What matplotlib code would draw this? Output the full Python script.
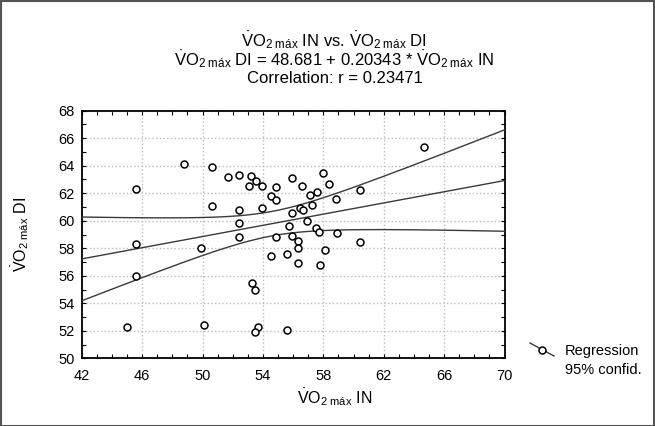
import numpy as np
import matplotlib
matplotlib.use("Agg")
import matplotlib.pyplot as plt
from matplotlib.lines import Line2D
from matplotlib.patches import Rectangle
from matplotlib.ticker import MultipleLocator

plt.rcParams['font.family'] = ['Liberation Sans', 'DejaVu Sans']
plt.rcParams['mathtext.fontset'] = 'custom'
plt.rcParams['mathtext.rm'] = 'Liberation Sans'
plt.rcParams['mathtext.it'] = 'Liberation Sans:italic'
plt.rcParams['mathtext.bf'] = 'Liberation Sans:bold'

# Data
vo2_in = [45.6, 45.6, 45.6, 48.8, 50.6, 50.6, 49.9, 45.0, 50.1, 53.3, 53.5, 53.7, 53.5, 55.6,
          51.7, 52.4, 53.2, 53.55, 53.05, 53.95, 55.95, 54.9, 56.6, 57.95, 58.4, 54.55, 54.9,
          57.1, 57.6, 58.85, 52.4, 53.95, 55.95, 56.45, 56.65, 57.25, 56.9, 60.4, 52.4, 55.7,
          57.5, 57.7, 58.9, 52.4, 54.85, 55.95, 56.3, 56.3, 58.1, 54.55, 55.6, 56.3, 57.8,
          60.4, 64.65]
vo2_di = [58.3, 62.3, 56.0, 64.1, 63.9, 61.1, 58.0, 52.3, 52.4, 55.5, 55.0, 52.25, 51.9, 52.05,
          63.15, 63.35, 63.25, 62.9, 62.5, 62.5, 63.1, 62.45, 62.5, 63.5, 62.7, 61.8, 61.5,
          61.9, 62.1, 61.6, 60.75, 60.9, 60.55, 60.95, 60.8, 61.15, 60.0, 62.25, 59.8, 59.6,
          59.5, 59.15, 59.1, 58.8, 58.8, 58.9, 58.5, 58.05, 57.9, 57.45, 57.55, 56.9, 56.8,
          58.45, 65.35]
intercept = 48.681
slope = 0.20343
r_value = 0.23471
t_crit = 2.006
x_ticks = [42, 46, 50, 54, 58, 62, 66, 70]
y_ticks = [50, 52, 54, 56, 58, 60, 62, 64, 66, 68]

x = np.array(vo2_in)
y = np.array(vo2_di)
n = len(x)
resid = y - (intercept + slope * x)
s = np.sqrt(np.sum(resid ** 2) / (n - 2))
xbar = x.mean()
sxx = np.sum((x - xbar) ** 2)
xs = np.linspace(42, 70, 200)
yfit = intercept + slope * xs
se = s * np.sqrt(1.0 / n + (xs - xbar) ** 2 / sxx)
upper = yfit + t_crit * se
lower = yfit - t_crit * se

fig = plt.figure(figsize=(6.55, 4.26), dpi=100)
ax = fig.add_axes([81.7 / 655, 1 - 358.3 / 426, (504.5 - 81.7) / 655, (358.3 - 110.7) / 426])

line_col = '#3a3a3a'
ax.plot(xs, yfit, color=line_col, lw=1.0, zorder=3)
ax.plot(xs, upper, color=line_col, lw=1.0, zorder=3)
ax.plot(xs, lower, color=line_col, lw=1.0, zorder=3)
ax.plot(x, y, linestyle='none', marker='o', markersize=5, markerfacecolor='white',
        markeredgecolor='black', markeredgewidth=1.1, zorder=4)

ax.set_xlim(42, 70)
ax.set_ylim(50, 68)
ax.set_xticks(x_ticks)
ax.set_yticks(y_ticks)
ax.xaxis.set_minor_locator(MultipleLocator(1))
ax.yaxis.set_minor_locator(MultipleLocator(1))
ax.tick_params(which='both', direction='in', top=True, right=True, length=3, width=0.8,
               labelsize=10.5, colors='black')
ax.tick_params(axis='x', which='major', pad=8)
ax.tick_params(axis='y', which='major', pad=5)
ax.grid(True, which='major', linestyle=':', color='#bdbdbd', lw=1.0)
ax.set_axisbelow(True)
for sp in ax.spines.values():
    sp.set_linewidth(1.3)
    sp.set_color('black')

lab = r'$\dot{\mathrm{V}}\mathrm{O}_{2\ \mathrm{máx}}$'
title_lines = [lab + ' IN vs. ' + lab + ' DI',
               lab + ' DI = 48.681 + 0.20343 * ' + lab + ' IN']
fig.text(334 / 655, 1 - 29 / 426, '\n'.join(title_lines), ha='center', va='top',
         fontsize=12, linespacing=0.84)
fig.text(335 / 655, 1 - 83 / 426, 'Correlation: r = %.5f' % r_value, ha='center', va='baseline',
         fontsize=12)

fig.text(335 / 655, 1 - 397 / 426, lab + ' IN', ha='center', va='center', fontsize=11.5)
fig.text(20 / 655, 1 - 234 / 426, lab + ' DI', ha='center', va='center', fontsize=11.5, rotation=90)

# legend
fig.add_artist(Line2D([530 / 655, 554 / 655], [1 - 343 / 426, 1 - 356 / 426], color=line_col, lw=1.0,
                      transform=fig.transFigure))
fig.add_artist(Line2D([542 / 655], [1 - 350 / 426], marker='o', markersize=5, markerfacecolor='white',
                      markeredgecolor='black', markeredgewidth=1.1, linestyle='none',
                      transform=fig.transFigure))
fig.text(565 / 655, 1 - 351 / 426, 'Regression', ha='left', va='center', fontsize=10.5)
fig.text(565 / 655, 1 - 370 / 426, '95% confid.', ha='left', va='center', fontsize=10.5)

fig.add_artist(Rectangle((0.5 / 655, 0.5 / 426), 653.5 / 655, 424.5 / 426, transform=fig.transFigure,
                         fill=False, edgecolor='#555555', lw=1.5))

fig.savefig('out.png', dpi=100)
